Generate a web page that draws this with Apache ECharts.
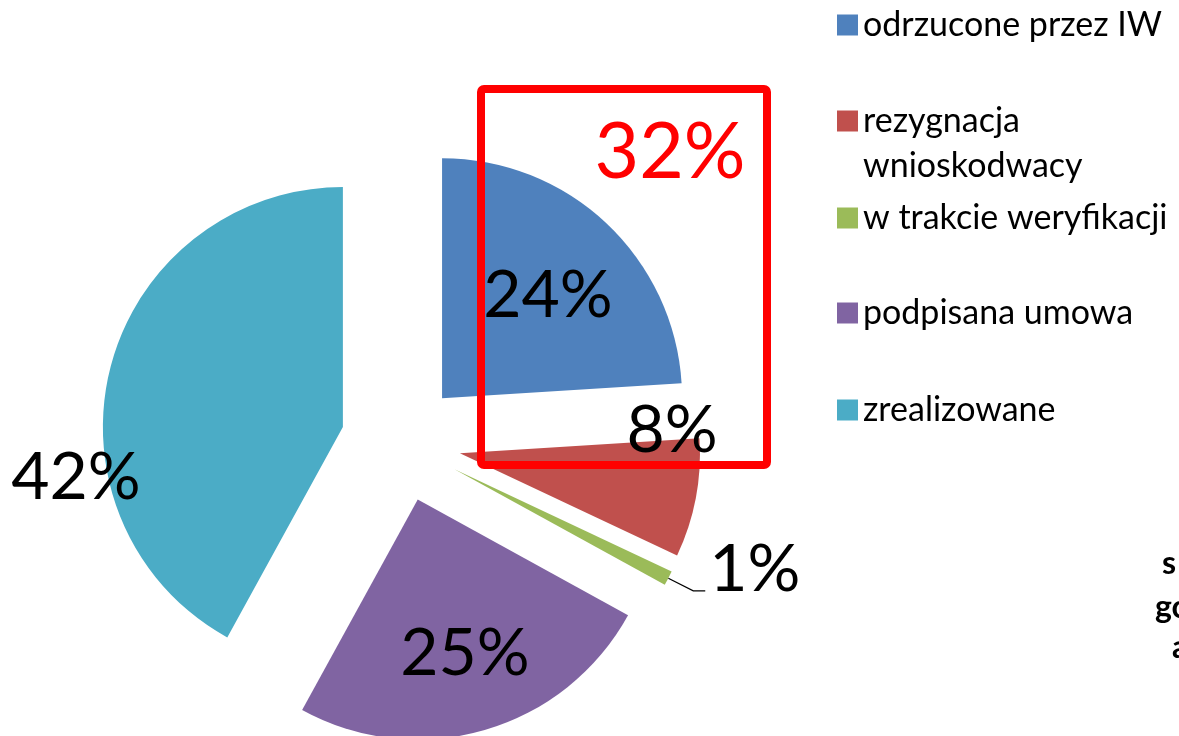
<!DOCTYPE html>
<html>
<head>
<meta charset="utf-8">
<script src="https://cdn.jsdelivr.net/npm/echarts@6/dist/echarts.min.js"></script>
<style>
  html, body { margin: 0; padding: 0; background: #ffffff; }
  #chart { width: 1179px; height: 736px; }
</style>
</head>
<body>
<div id="chart"></div>
<script>
// ---- data ----
const categories = ['odrzucone przez IW', 'rezygnacja wnioskodwacy', 'w trakcie weryfikacji', 'podpisana umowa', 'zrealizowane'];
const legendLabels = ['odrzucone przez IW', '\nrezygnacja\nwnioskodwacy', 'w trakcie weryfikacji', 'podpisana umowa', 'zrealizowane'];
const values = [24, 8, 1, 25, 42];
const highlightLabel = '32%';
const sideLines = ['s', 'go', 'a'];

// ---- styles / layout ----
const colors = ['#4F81BD', '#C0504D', '#9BBB59', '#8064A2', '#4BACC6'];
const labelPos = [[548, 296], [672, 431], null, [465, 654], [76, 478]];
const legendCenters = [25, 121, 218, 313, 410];
const pieCenter = [401, 442];
const pieRadius = 240;
const explode = 60;
const FONT = 'Lato';

const chart = echarts.init(document.getElementById('chart'), null, { renderer: 'canvas' });

const total = values.reduce((a, b) => a + b, 0);
const legends = categories.map((name, i) => ({
  data: [name],
  orient: 'vertical',
  left: 837,
  top: legendCenters[i] - (i === 1 ? 67.5 : 22.5),
  padding: 0,
  itemWidth: 21,
  itemHeight: 21,
  icon: 'rect',
  selectedMode: false,
  formatter: () => legendLabels[i],
  textStyle: { fontFamily: FONT, fontSize: 34, color: '#000', lineHeight: 45 }
}));

// one pie series per slice, so that each slice can be pulled out along its own bisector
let cum = 0;
const series = categories.map((name, i) => {
  const mid = (cum + values[i] / 2) / total * 2 * Math.PI;
  cum += values[i];
  const center = [pieCenter[0] + explode * Math.sin(mid), pieCenter[1] - explode * Math.cos(mid)];
  return {
    type: 'pie',
    center: center,
    radius: pieRadius,
    startAngle: 90,
    clockwise: true,
    avoidLabelOverlap: false,
    emphasis: { disabled: true },
    silent: true,
    label: {
      show: true,
      position: i === 2 ? 'outside' : 'inside',
      fontFamily: FONT,
      fontSize: 66,
      lineHeight: 42,
      color: '#000',
      distanceToLabelLine: 4,
      formatter: p => values[p.dataIndex] + '%' + (i === 2 ? '\n' : '')
    },
    labelLine: {
      show: i === 2,
      length: 28,
      length2: 12,
      lineStyle: { color: '#000', width: 1.2 }
    },
    labelLayout: p => {
      const lp = labelPos[p.dataIndex];
      if (p.dataIndex !== i || !lp) return {};
      return { x: lp[0], y: lp[1], align: 'center', verticalAlign: 'middle' };
    },
    data: categories.map((n, j) => j === i
      ? { name: n, value: values[j], itemStyle: { color: colors[j] } }
      : { name: '', value: values[j], itemStyle: { color: 'rgba(0,0,0,0)' }, label: { show: false }, labelLine: { show: false } })
  };
});

const option = {
  backgroundColor: '#ffffff',
  animation: false,
  legend: legends,
  series: series,
  graphic: [
    {
      type: 'rect',
      z: 10,
      shape: { x: 481, y: 89, width: 286, height: 376, r: 3 },
      style: { fill: 'none', stroke: '#FF0000', lineWidth: 8, lineJoin: 'round' }
    },
    {
      type: 'text',
      z: 10,
      x: 670, y: 153,
      style: { text: highlightLabel, fill: '#FF0000', font: '77px ' + FONT, textAlign: 'center', textVerticalAlign: 'middle' }
    },
    {
      type: 'text', z: 10, x: 1162, y: 564,
      style: { text: sideLines[0], fill: '#000', font: 'bold 32px ' + FONT, textAlign: 'left', textVerticalAlign: 'middle' }
    },
    {
      type: 'text', z: 10, x: 1155, y: 608,
      style: { text: sideLines[1], fill: '#000', font: 'bold 32px ' + FONT, textAlign: 'left', textVerticalAlign: 'middle' }
    },
    {
      type: 'text', z: 10, x: 1172, y: 648,
      style: { text: sideLines[2], fill: '#000', font: 'bold 32px ' + FONT, textAlign: 'left', textVerticalAlign: 'middle' }
    }
  ]
};

chart.setOption(option);
</script>
</body>
</html>
